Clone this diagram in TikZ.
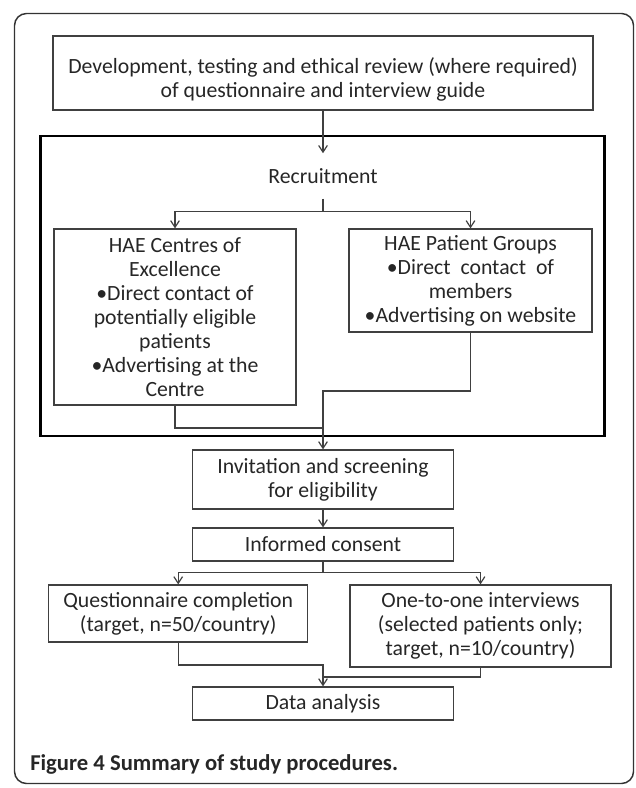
\documentclass[tikz,border=0pt]{standalone}
\usepackage{fontspec}
\setmainfont{Carlito}
\usetikzlibrary{arrows.meta}
\definecolor{boxgray}{HTML}{404040}
\definecolor{txtgray}{HTML}{262626}
\definecolor{framegray}{HTML}{333333}
\newcommand\boxfont{\fontsize{16.3}{18}\selectfont}
\begin{document}
\begin{tikzpicture}[x=0.75pt,y=-0.75pt,
  box/.style={draw=boxgray, line width=0.9pt, align=center, inner sep=0pt, text=txtgray, font=\boxfont},
  plain/.style={align=center, inner sep=0pt, text=txtgray, font=\boxfont},
  arr/.style={draw=boxgray, line width=0.9pt, -{Straight Barb[length=5pt,width=6.5pt]}},
  ln/.style={draw=boxgray, line width=0.9pt},
]
\useasboundingbox (0,0) rectangle (635,788);
% outer frame
\draw[framegray, line width=1.1pt, rounded corners=9pt] (14.5,13.5) rectangle (633.5,783.5);

% thick recruitment container
\node[draw=black, line width=2pt, minimum width=423pt, minimum height=225pt, inner sep=0pt] (recbox) at (322.5,286) {};

% top box and its text
\node[box, minimum width=405pt, minimum height=55.5pt] (top) at (323,73) {};
\node[plain] (toptext) at (323,79.5)
  {Development, testing and ethical review (where required)\\of questionnaire and interview guide};

\node[plain, minimum height=33.75pt] (rec) at (323,176) {Recruitment};

\node[box, minimum width=181.5pt, minimum height=132pt] (hae1) at (175,317)
  {HAE Centres of\\Excellence\\•Direct contact of\\potentially eligible\\patients\\•Advertising at the\\Centre};

\node[box, minimum width=182.25pt, minimum height=77.25pt] (hae2) at (470.5,280.5)
  {HAE Patient Groups\\•Direct\hspace{3.75pt} contact\hspace{3.75pt} of\\members\\•Advertising on website};

\node[box, minimum width=195.75pt, minimum height=44.25pt] (inv) at (323,479.5)
  {Invitation and screening\\for eligibility};

\node[box, minimum width=195.75pt, minimum height=24.75pt] (inf) at (323,544.5)
  {Informed consent};

\node[box, minimum width=194.25pt, minimum height=42.75pt] (q) at (178.2,613.5)
  {Questionnaire completion\\(target, n=50/country)};

\node[box, minimum width=195.75pt, minimum height=61.5pt] (o) at (480.5,626)
  {One-to-one interviews\\(selected patients only;\\target, n=10/country)};

\node[box, minimum width=195.75pt, minimum height=24.75pt] (data) at (323,703.5)
  {Data analysis};

\node[anchor=west, inner sep=0pt, text=txtgray, font=\fontsize{17}{20}\selectfont\bfseries] (cap) at (30,764)
  {Figure 4 Summary of study procedures.};

% junction points
\coordinate (jr) at (323,391);
\coordinate (jl) at (323,428);
\coordinate (kl) at (323,665);
\coordinate (kr) at (323,677);

% connectors
\draw[arr] (top.south) -- (rec.north);
\draw[arr] (rec.south) -- ++(0,12.5) -| (hae1.north);
\draw[arr] (rec.south) -- ++(0,12.5) -| (hae2.north);
\draw[ln] (hae1.south) |- (jl);
\draw[arr] (hae2.south) |- (jr) -- (inv.north);
\draw[arr] (inv.south) -- (inf.north);
\draw[arr] (inf.south) -- ++(0,11) -| (q.north);
\draw[arr] (inf.south) -- ++(0,11) -| (o.north);
\draw[arr] (q.south) |- (kl) -- (data.north);
\draw[ln] (o.south) |- (kr);
\end{tikzpicture}
\end{document}
